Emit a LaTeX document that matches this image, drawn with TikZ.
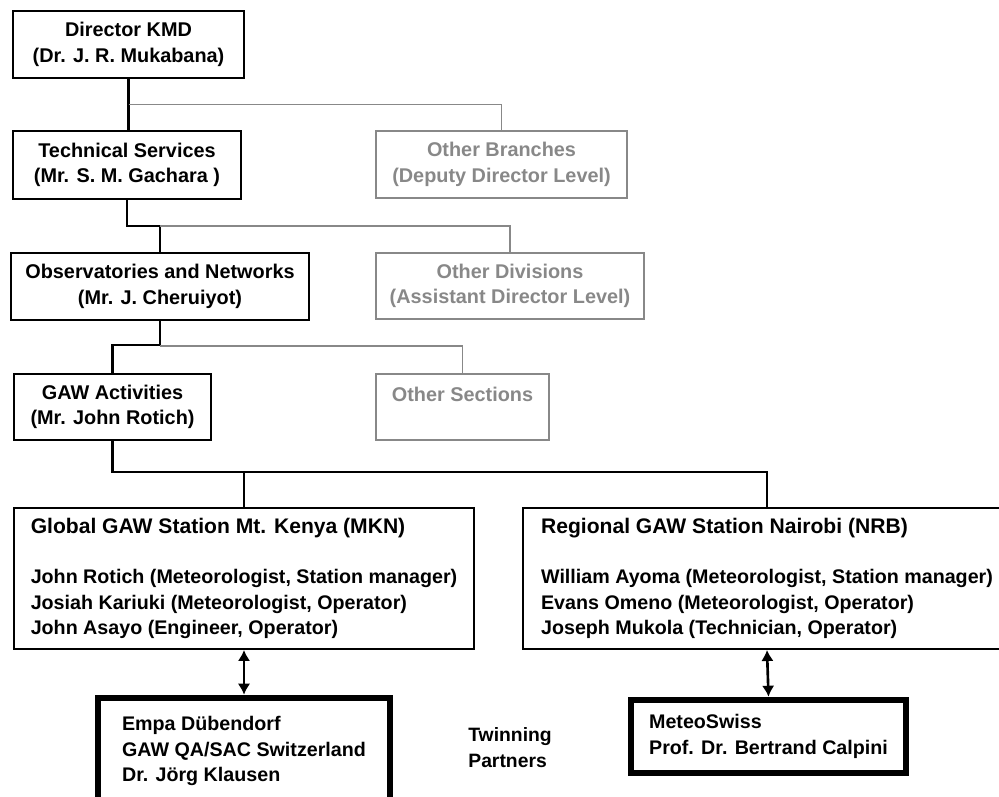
\documentclass[tikz,border=0pt]{standalone}
\usepackage{fontspec}
\setmainfont{Liberation Sans}
\usetikzlibrary{arrows.meta}

\definecolor{othergray}{RGB}{136,136,136}

\begin{document}
\begin{tikzpicture}[
  unit/.style={rectangle, draw, line width=1.4pt, align=center, inner sep=2pt, font=\bfseries\fontsize{11.3}{14.5}\selectfont},
  other/.style={unit, draw=othergray, text=othergray, line width=1pt},
  station/.style={unit, align=left, minimum height=2.81cm, font=\bfseries\fontsize{11.2}{14.7}\selectfont},
  partner/.style={unit, align=left, line width=2.6pt, font=\bfseries\fontsize{11.2}{14.7}\selectfont},
  link/.style={line width=1.5pt},
  sublink/.style={line width=1pt, draw=othergray},
  twin/.style={{Latex[length=2.2mm,width=2.5mm]}-{Latex[length=2.2mm,width=2.5mm]}, line width=1.5pt}
]

\useasboundingbox (0,0) rectangle (19.98,15.92);
\clip (0,0) rectangle (19.98,15.92);

% KMD line of command
\node[unit, minimum width=4.61cm, minimum height=1.33cm] (director) at (2.57,15.03) {Director KMD\\(Dr. J. R. Mukabana)};
\node[unit, minimum width=4.55cm, minimum height=1.35cm] (tech) at (2.54,12.62) {Technical Services\\(Mr. S. M. Gachara )};
\node[unit, minimum width=5.95cm, minimum height=1.33cm] (obs) at (3.20,10.19) {Observatories and Networks\\(Mr. J. Cheruiyot)};
\node[unit, minimum width=3.93cm, minimum height=1.31cm] (gaw) at (2.25,7.78) {GAW Activities\\(Mr. John Rotich)};

% Other units (grey)
\node[other, minimum width=5.02cm, minimum height=1.34cm] (branches) at (10.03,12.63) {Other Branches\\(Deputy Director Level)};
\node[other, minimum width=5.36cm, minimum height=1.32cm] (divisions) at (10.20,10.20) {Other Divisions\\(Assistant Director Level)};
\node[other, minimum width=3.46cm, minimum height=1.32cm] (sections) at (9.25,7.78) {Other Sections\\~};

% GAW stations
\node[station, minimum width=9.19cm] (mkn) at (4.88,4.35) {{\fontsize{12}{14.7}\selectfont Global GAW Station Mt. Kenya (MKN)}\\[13.8pt]
  John Rotich (Meteorologist, Station manager)\\
  Josiah Kariuki (Meteorologist, Operator)\\
  John Asayo (Engineer, Operator)};
\node[station, minimum width=9.75cm] (nrb) at (15.34,4.35) {{\fontsize{12}{14.7}\selectfont Regional GAW Station Nairobi (NRB)}\\[13.8pt]
  William Ayoma (Meteorologist, Station manager)\\
  Evans Omeno (Meteorologist, Operator)\\
  Joseph Mukola (Technician, Operator)};

% Twinning partners
\node[partner, minimum width=5.88cm, minimum height=2.16cm] (empa) at (4.88,0.90) {Empa Dübendorf\\GAW QA/SAC Switzerland\\Dr. Jörg Klausen};
\node[partner, minimum width=5.54cm, minimum height=1.50cm] (meteo) at (15.37,1.19) {MeteoSwiss\\Prof. Dr. Bertrand Calpini};
\node[anchor=west, inner sep=0, align=left, font=\bfseries\fontsize{11}{14.5}\selectfont] (twinning) at (9.36,0.97) {Twinning\\Partners};

\foreach \p in {empa,meteo}
  \draw[line width=0.7pt] ([shift={(3pt,3pt)}]\p.south west) rectangle ([shift={(-3pt,-3pt)}]\p.north east);

% Connectors
\draw[link] (director.south) -- (director.south |- tech.north);
\draw[sublink] (director.south) ++(0,-0.51) -| (branches.north);
\draw[link] (tech.south) -- ++(0,-0.52) -| (obs.north);
\draw[sublink] (obs.north) ++(0,0.52) -| (divisions.north);
\draw[link] (obs.south) -- ++(0,-0.48) -| (gaw.north);
\draw[sublink] (obs.south) ++(0,-0.50) -| (sections.north);
\draw[link] (gaw.south) -- ++(0,-0.62) coordinate (split) -| (nrb.north);
\draw[link] (mkn.north) -- (mkn.north |- split);

% Twinning arrows
\draw[twin] (mkn.south) -- (empa.north);
\draw[twin] (nrb.south) -- (meteo.north);

\end{tikzpicture}
\end{document}
